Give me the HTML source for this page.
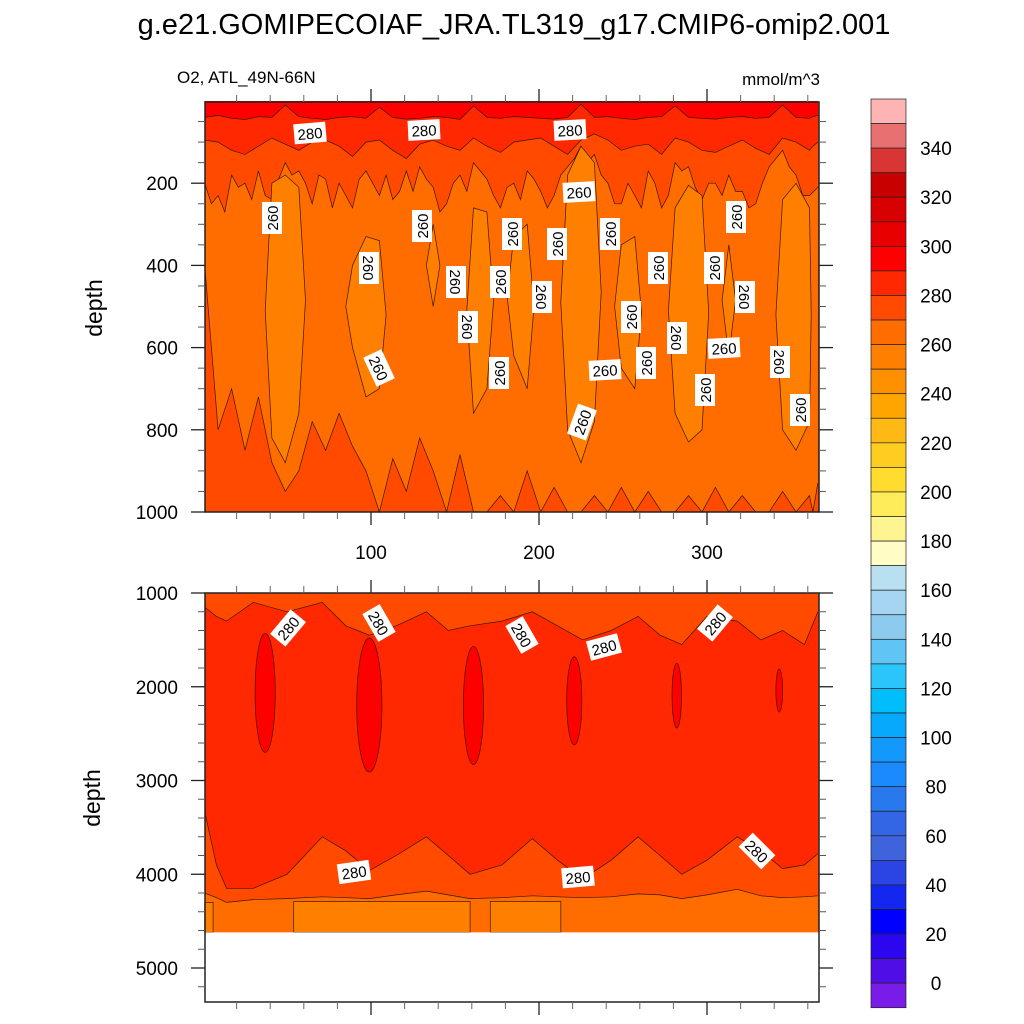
<!DOCTYPE html>
<html><head><meta charset="utf-8"><style>
body{margin:0;background:#fff;}
svg{display:block;font-family:"Liberation Sans",sans-serif;}
</style></head><body>
<svg id="chart" width="1024" height="1024" viewBox="0 0 1024 1024" xmlns="http://www.w3.org/2000/svg">
<text x="514" y="34" font-size="29" text-anchor="middle">g.e21.GOMIPECOIAF_JRA.TL319_g17.CMIP6-omip2.001</text>
<text x="177" y="83" font-size="17">O2, ATL_49N-66N</text>
<text x="820" y="85" font-size="17" text-anchor="end">mmol/m^3</text>
<text x="102" y="308" font-size="23" text-anchor="middle" transform="rotate(-90 102 308)">depth</text>
<text x="100" y="798" font-size="23" text-anchor="middle" transform="rotate(-90 100 798)">depth</text>
<g id="topPanel"></g>
<g id="botPanel"></g>
<g id="cbar"></g>
<g id="labels"></g>
</svg>
<script>
// ---- top panel data (0-1000 m) ----
const days = [1,9,17,25,33,41,49,57,65,73,81,89,97,105,113,121,129,137,145,153,161,169,177,185,193,201,209,217,225,233,241,249,257,265,273,281,289,297,305,313,321,329,337,345,353,361,363,366];
const b290 = [40,35,42,45,38,40,10,38,42,45,40,38,42,15,40,44,42,38,40,45,12,40,42,38,40,42,44,40,8,40,38,42,45,40,38,12,40,42,44,40,38,42,40,10,40,42,38,35];
const b280 = [95,100,120,130,110,90,105,120,100,95,110,135,100,95,120,140,105,95,110,120,90,110,125,100,95,90,110,130,95,80,95,120,110,105,130,90,100,120,125,110,95,115,130,90,100,120,110,100];
const days2 = [1,5,9,13,17,21,25,29,33,37,41,45,49,53,57,61,65,69,73,77,81,85,89,93,97,101,105,109,113,117,121,125,129,133,137,141,145,149,153,157,161,165,169,173,177,181,185,189,193,197,201,205,209,213,217,221,225,229,233,237,241,245,249,253,257,261,265,269,273,277,281,285,289,293,297,301,305,309,313,317,321,325,329,333,337,341,345,349,353,357,361,366];
const b270b = [200,250,230,270,180,210,200,240,170,230,240,190,150,180,170,200,250,180,190,260,200,230,260,190,170,200,230,180,240,220,170,220,160,190,210,270,250,200,180,220,150,170,190,230,260,210,200,240,170,190,220,260,230,180,160,140,110,150,130,180,200,250,250,200,230,260,170,200,260,230,150,170,160,210,240,200,200,230,180,220,220,260,250,200,160,140,120,160,180,230,230,210];
const t250 = [null,null,null,null,null,200,180,210,null,null,null,400,330,340,null,null,null,300,null,null,260,270,null,330,300,null,null,180,110,150,null,350,330,null,null,260,205,230,null,350,null,null,null,240,200,260,null,null];
const b250 = [null,null,null,null,null,820,880,760,null,null,null,600,720,700,null,null,null,500,null,null,760,700,null,620,700,null,null,800,880,780,null,650,700,null,null,760,830,800,null,620,null,null,null,800,850,780,null,null];
const b270low = [400,800,700,850,720,880,950,900,780,850,760,840,900,1000,870,950,820,900,1000,860,1000,1000,960,1000,900,1000,940,1000,1000,960,1000,940,1000,950,1000,1000,960,1000,940,1000,960,1000,1000,950,1000,960,1000,930];
// ---- bottom panel data (1000-5375 m) ----
const bDays = [1,8,14,30,50,71,85,99,115,133,146,159,178,196,211,226,243,259,272,285,300,318,332,345,358,366];
const up280 = [1150,1250,1300,1100,1200,1100,1350,1450,1350,1200,1400,1350,1300,1200,1350,1500,1400,1250,1450,1550,1250,1300,1500,1400,1550,1200];
const low280 = [3330,3900,4150,4150,4000,3600,3750,3960,3800,3600,3800,4000,3900,3620,3850,4050,3850,3600,3800,4000,3850,3600,3750,3940,3900,3780];
const low270 = [4200,4250,4300,4270,4260,4240,4250,4260,4220,4180,4220,4260,4250,4230,4240,4250,4240,4210,4220,4260,4220,4160,4230,4250,4240,4230];
const rectStart = [54,171,1];
const rectEnd = [159,213,6];
const rectTop = [4290,4290,4300];
const dataBottom = 4620;
const blobDay = [37,99,161,221,282,343];
const blobHalf = [6,7.5,6,4.5,2.8,2];
const blobTop = [1430,1480,1570,1680,1750,1810];
const blobBot = [2700,2910,2830,2620,2440,2270];
// ---- colorbar ----
const cbColors = ["#ffb4b4","#e87070","#d93535","#c80000","#d80000","#e80000","#ff0000","#ff2800","#ff4a00","#ff6c00","#ff7f00","#ff9000","#ffa500","#ffb914","#ffcc20","#ffdc2e","#ffec5a","#fff590","#fffcc5","#b8e0f0","#a5d5f0","#8dcbee","#60c4f5","#2bc4fb","#00bdfc","#06a9fc","#1399fc","#1a8afc","#2878ee","#3366e5","#3f63dc","#2a45e3","#1427f0","#0000ff","#2d06f0","#500ee6","#7a1ce8"];
const cbLabels = [340,320,300,280,260,240,220,200,180,160,140,120,100,80,60,40,20,0];

const NS="http://www.w3.org/2000/svg";
const L=205,R=819;
const xs=d=>203+1.68*d;
const ys=z=>101+0.411*z;
const yb=z=>593+(z-1000)*0.09375;
function mk(tag,parent,attrs){const e=document.createElementNS(NS,tag);for(const k in attrs)e.setAttribute(k,attrs[k]);parent.appendChild(e);return e;}
function pts(X,Y,f,sx){return X.map((d,i)=>sx(d).toFixed(1)+","+f(Y[i]).toFixed(1));}
const LINE="#3a1800";

// top panel
const topG=document.getElementById('topPanel');
let r=mk('rect',topG,{x:L,y:102,width:R-L,height:410,fill:"#ff4a00"});


function band(parent,name,upperArr,lowerArr,X,sx,sy,fill,line){
  const a=pts(X,upperArr,sy,sx), b=pts(X,lowerArr,sy,sx).reverse();
  const p=mk('polygon',parent,{points:a.concat(b).join(" "),fill:fill,stroke:"none"});
  
  
  if(line){
    const l1=mk('polyline',parent,{points:pts(X,lowerArr,sy,sx).join(" "),fill:"none",stroke:LINE,"stroke-width":0.7});
    
    
  }
}
const zeros=days.map(()=>0);
band(topG,'top-band-280-290',zeros,b280,days,xs,ys,"#ff2800",true);
band(topG,'top-band-290-300',zeros,b290,days,xs,ys,"#ff0000",true);
// 260-270 region: upper boundary b270b on days2, lower boundary b270low on days
(function(){
  const a=pts(days2,b270b,ys,xs), b=pts(days,b270low,ys,xs).reverse();
  const p=mk('polygon',topG,{points:a.concat(b).join(" "),fill:"#ff6c00",stroke:"none"});
  
  
})();
let ln=mk('polyline',topG,{points:pts(days2,b270b,ys,xs).join(" "),fill:"none",stroke:LINE,"stroke-width":0.7});


ln=mk('polyline',topG,{points:pts(days,b270low,ys,xs).join(" "),fill:"none",stroke:LINE,"stroke-width":0.7});


// 250-260 columns: one polygon per contiguous run
(function(){
  let i=0;
  while(i<days.length){
    if(t250[i]==null){i++;continue;}
    let j=i;while(j+1<days.length&&t250[j+1]!=null)j++;
    const p0=(i>0)?(days[i-1]+days[i])/2:days[i];
    const p1=(j<days.length-1)?(days[j]+days[j+1])/2:days[j];
    const midS=(t250[i]+b250[i])/2, midE=(t250[j]+b250[j])/2;
    const P=[xs(p0).toFixed(1)+","+ys(midS).toFixed(1)];
    for(let k=i;k<=j;k++)P.push(xs(days[k]).toFixed(1)+","+ys(t250[k]).toFixed(1));
    P.push(xs(p1).toFixed(1)+","+ys(midE).toFixed(1));
    for(let k=j;k>=i;k--)P.push(xs(days[k]).toFixed(1)+","+ys(b250[k]).toFixed(1));
    const e=mk('polygon',topG,{points:P.join(" "),fill:"#ff7f00",stroke:LINE,"stroke-width":0.7});
    
    
    i=j+1;
  }
})();

// bottom panel
const botG=document.getElementById('botPanel');
r=mk('rect',botG,{x:L,y:593,width:R-L,height:yb(dataBottom)-593,fill:"#ff4a00"});


band(botG,'bottom-band-280-290',up280,low280,bDays,xs,yb,"#ff2800",true);
let up=mk('polyline',botG,{points:pts(bDays,up280,yb,xs).join(" "),fill:"none",stroke:LINE,"stroke-width":0.7});


band(botG,'bottom-band-260-270',low270,bDays.map(()=>dataBottom),bDays,xs,yb,"#ff6c00",false);
up=mk('polyline',botG,{points:pts(bDays,low270,yb,xs).join(" "),fill:"none",stroke:LINE,"stroke-width":0.7});


rectStart.forEach((s,i)=>{
  const e=mk('rect',botG,{x:xs(s),y:yb(rectTop[i]),width:xs(rectEnd[i])-xs(s),height:yb(dataBottom)-yb(rectTop[i]),fill:"#ff7f00",stroke:LINE,"stroke-width":0.7});
  
  
});
blobDay.forEach((d,i)=>{
  const e=mk('ellipse',botG,{cx:xs(d),cy:(yb(blobTop[i])+yb(blobBot[i]))/2,rx:blobHalf[i]*1.68,ry:(yb(blobBot[i])-yb(blobTop[i]))/2,fill:"#ff0000",stroke:LINE,"stroke-width":0.7});
  
  
});
r=mk('rect',botG,{x:L,y:yb(dataBottom),width:R-L,height:1002-yb(dataBottom),fill:"#fff"});



// axes & ticks
function axes(g,y0,y1,yfun,majors,minors,name,showX){
  const f=mk('rect',g,{x:L,y:y0,width:R-L,height:y1-y0,fill:"none",stroke:"#222","stroke-width":1.5});
  
  
  minors.forEach(z=>{const y=yfun(z);
    let t=mk('line',g,{x1:L-7,x2:L,y1:y,y2:y,stroke:"#555","stroke-width":1});
    t=mk('line',g,{x1:R,x2:R+7,y1:y,y2:y,stroke:"#555","stroke-width":1});});
  majors.forEach(z=>{const y=yfun(z);
    let t=mk('line',g,{x1:L-14,x2:L,y1:y,y2:y,stroke:"#222","stroke-width":1.3});
    t=mk('line',g,{x1:R,x2:R+14,y1:y,y2:y,stroke:"#222","stroke-width":1.3});
    const tx=mk('text',g,{x:178,y:y+7,"font-size":19,"text-anchor":"end"});tx.textContent=z;});
  for(let d=20;d<=360;d+=20){const x=xs(d);const maj=d%100===0;const len=maj?13:7;
    let t=mk('line',g,{x1:x,x2:x,y1:y0-len,y2:y0,stroke:maj?"#222":"#666","stroke-width":maj?1.3:1});
    t=mk('line',g,{x1:x,x2:x,y1:y1,y2:y1+len,stroke:maj?"#222":"#666","stroke-width":maj?1.3:1});
    if(maj&&showX){const tx=mk('text',g,{x:x,y:y1+47,"font-size":19,"text-anchor":"middle"});tx.textContent=d;}
  }
}
const tm=[],tn=[];for(let z=50;z<1000;z+=50){if(z%200)tn.push(z);}[200,400,600,800,1000].forEach(z=>tm.push(z));
axes(topG,102,512,ys,tm,tn,'top',true);
const bm=[1000,2000,3000,4000,5000],bn=[];for(let z=1200;z<5375;z+=200){if(z%1000)bn.push(z);}
axes(botG,593,1002,yb,bm,bn,'bottom',false);

// colorbar
const cb=document.getElementById('cbar');
const h=24.56;
cbColors.forEach((c,i)=>{const e=mk('rect',cb,{x:871,y:99+i*h,width:35,height:h,fill:c,stroke:"#222","stroke-width":0.7});
  
  });
cbLabels.forEach(v=>{const y=99+(360-v)/10*h;const t=mk('text',cb,{x:936,y:y+7,"font-size":19,"text-anchor":"middle"});t.textContent=v;
  
  });

// contour labels
const labs=[[310,133,-5,"280"],[424,130,-3,"280"],[570,130,-3,"280"],[579,192,-3,"260"],[272,218,-90,"260"],[422,226,-90,"260"],[512,234,-90,"260"],[557,244,-90,"260"],[610,234,-90,"260"],[736,217,-90,"260"],[369,268,90,"260"],[456,282,90,"260"],[500,282,-90,"260"],[542,297,90,"260"],[658,268,-90,"260"],[714,268,-90,"260"],[745,297,90,"260"],[631,317,-90,"260"],[468,327,90,"260"],[677,338,90,"260"],[499,373,-90,"260"],[780,362,90,"260"],[646,363,-90,"260"],[379,368,65,"260"],[605,370,-3,"260"],[724,348,-3,"260"],[705,390,-90,"260"],[582,422,-70,"260"],[800,410,-90,"260"],
[288,628,-50,"280"],[379,623,60,"280"],[522,635,60,"280"],[604,647,-15,"280"],[715,623,-50,"280"],[354,872,-8,"280"],[578,877,-5,"280"],[757,851,45,"280"]];
const lg=document.getElementById('labels');
labs.forEach(l=>{const g=mk('g',lg,{transform:`translate(${l[0]},${l[1]}) rotate(${l[2]})`});
  
  
  mk('rect',g,{x:-16,y:-10,width:32,height:20,fill:"#fff"});
  const t=mk('text',g,{x:0,y:6,"font-size":15,"text-anchor":"middle"});t.textContent=l[3];});
</script>
</body></html>
